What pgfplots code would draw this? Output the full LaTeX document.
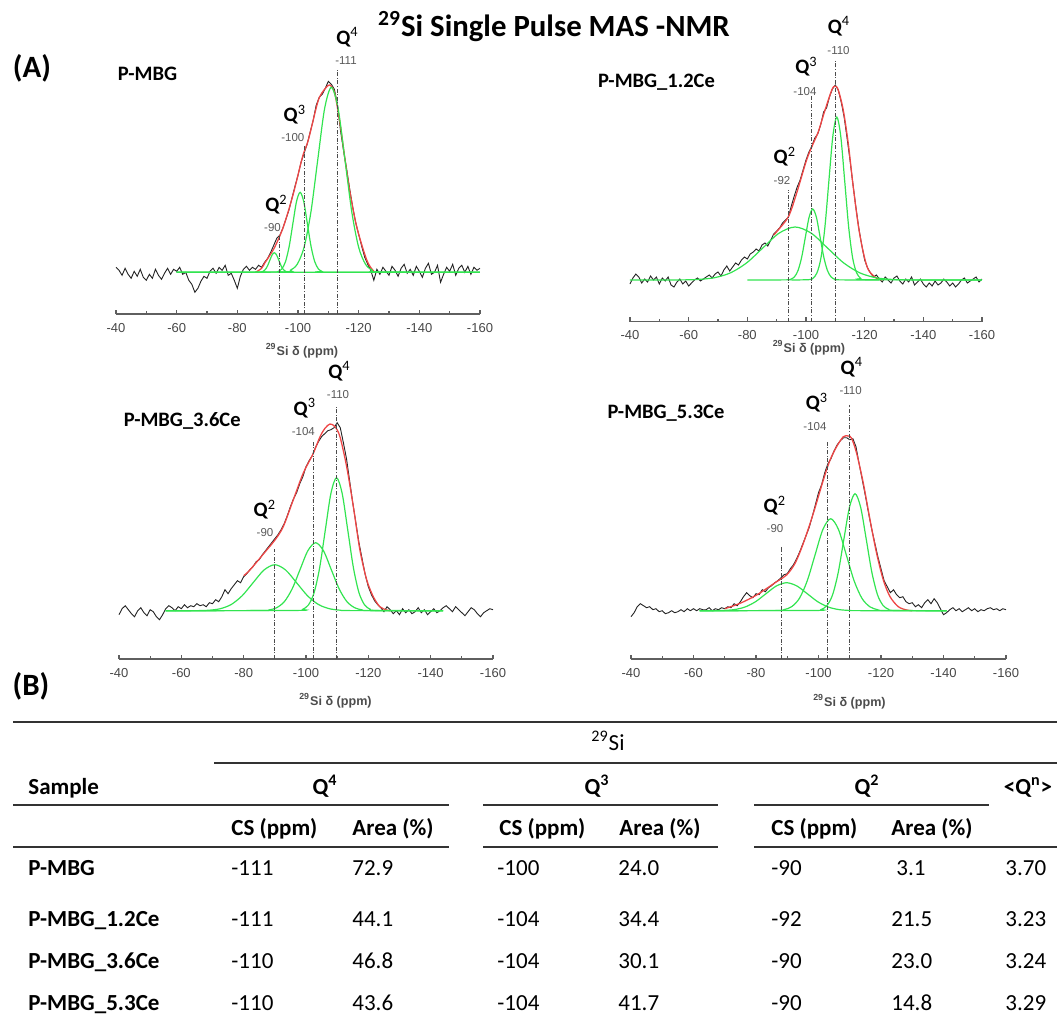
\documentclass[border=0pt]{standalone}
\usepackage{fontspec}
\setmainfont{Carlito}
\newfontfamily\arial{Liberation Sans}
\usepackage{pgfplots}
\pgfplotsset{compat=1.18}
\definecolor{fitgreen}{RGB}{50,228,80}
\definecolor{fitred}{RGB}{238,70,70}
\definecolor{spec}{RGB}{35,35,35}
\definecolor{axgray}{RGB}{95,95,95}
\newcommand{\fs}[1]{\fontsize{#1pt}{#1pt}\selectfont}
\pgfplotsset{
 nmr/.style={
  scale only axis, anchor=south west, clip=false, no markers,
  x dir=reverse, xmin=-160, xmax=-40, ymax=230,
  axis y line=none, axis x line*=bottom,
  x axis line style={-, draw=axgray, line width=0.75pt},
  xtick={-160,-140,-120,-100,-80,-60,-40},
  xticklabels={-160,-140,-120,-100,-80,-60,-40},
  minor xtick={-150,-130,-110,-90,-70,-50},
  tick align=inside, major tick length=2.2pt, minor tick length=1.5pt,
  tick style={draw=axgray, line width=0.6pt},
  xticklabel style={font=\arial\fs{6.5}, text=black!72, anchor=center, inner sep=0pt, yshift=-6.9pt},
 },
 spc/.style={draw=spec, line width=0.45pt},
 gfit/.style={draw=fitgreen, line width=0.6pt, smooth},
 rfit/.style={draw=fitred, line width=0.65pt, smooth},
 dl/.style={draw=black!70, line width=0.5pt, dash pattern=on 2pt off 0.8pt on 0.5pt off 0.8pt},
}
\begin{document}
\begin{tikzpicture}
\useasboundingbox (0,0) rectangle (528.5pt,-509pt);
% ---------------- Panel 1: P-MBG
\begin{axis}[nmr, at={(58pt,-157pt)}, width=182pt, height=135.85pt, ymin=-41.7]
\addplot[spc] coordinates {(-40,5)(-41,2)(-42,-3)(-43,4)(-44,-2)(-45,-6)(-46,1)(-47,-4)(-48,3)(-49,-5)(-50,-8)(-51,-2)(-52,-6)(-53,3)(-54,-3)(-55,-7)(-56,-1)(-57,4)(-58,-2)(-59,3)(-60,1)(-61,5)(-62,-2)(-63,0)(-64,-8)(-65,-12)(-66,-20)(-67,-16)(-68,-9)(-69,-4)(-70,-6)(-71,1)(-72,4)(-73,-1)(-74,5)(-75,2)(-76,7)(-77,-3)(-78,-1)(-79,-8)(-80,-16)(-81,-4)(-82,3)(-83,6)(-84,2)(-85,5)(-86,3)(-87,7)(-88,5)(-89,10)(-90,14)(-91,20)(-92,27)(-93,34)(-94,37)(-95,44)(-96,53)(-97,62)(-98,74)(-99,86)(-100,97)(-101,110)(-102,119)(-103,128)(-104,140)(-105,152)(-106,167)(-107,175)(-108,178)(-109,184)(-110,191)(-111,188)(-112,183)(-113,168)(-114,142)(-115,122)(-116,104)(-117,84)(-118,66)(-119,50)(-120,38)(-121,26)(-122,15)(-123,8)(-124,2)(-125,-8)(-126,3)(-127,-2)(-128,5)(-129,1)(-130,-3)(-131,6)(-132,2)(-133,-4)(-134,4)(-135,8)(-136,-1)(-137,3)(-138,-3)(-139,6)(-140,1)(-141,-5)(-142,4)(-143,9)(-144,-2)(-145,0)(-146,7)(-147,-10)(-148,-2)(-149,5)(-150,1)(-151,8)(-152,-3)(-153,4)(-154,7)(-155,0)(-156,6)(-157,-2)(-158,5)(-159,2)(-160,4)};
\addplot[rfit] coordinates {(-86,0)(-88,4)(-89.1,9.6)(-90.5,16)(-92.4,25.6)(-95.2,45.6)(-98.5,79)(-101.5,115.6)(-103.4,132.3)(-106.4,169)(-107.8,179)(-110,187)(-111,186)(-112.2,178)(-113.9,148)(-115.5,113)(-117.2,79)(-119.4,45)(-122.7,12)(-125,1)(-126,0)};
\addplot[gfit] coordinates {(-60,0)(-86.95,0.04)(-87.7,0.22)(-88.45,0.86)(-89.2,2.65)(-89.95,6.36)(-90.7,11.9)(-91.45,17.3)(-92.2,19.6)(-92.95,17.3)(-93.7,11.9)(-94.45,6.36)(-95.2,2.65)(-95.95,0.86)(-96.7,0.22)(-97.45,0.04)(-160,0)};
\addplot[gfit] coordinates {(-60,0)(-92.3,0.18)(-93.5,0.89)(-94.7,3.5)(-95.9,10.8)(-97.1,26.0)(-98.3,48.5)(-99.5,70.6)(-100.7,80)(-101.9,70.6)(-103.1,48.5)(-104.3,26.0)(-105.5,10.8)(-106.7,3.5)(-107.9,0.89)(-109.1,0.18)(-160,0)};
\addplot[gfit] coordinates {(-60,0)(-95.25,0.41)(-97.5,2.05)(-99.75,8.1)(-102,25.0)(-104.25,60.1)(-106.5,112.2)(-108.75,163.3)(-111,185)(-113.25,163.3)(-115.5,112.2)(-117.75,60.1)(-120,25.0)(-122.25,8.1)(-124.5,2.05)(-126.75,0.41)(-160,0)};
\addplot[dl] coordinates {(-93.8,-41.7)(-93.8,36)};
\addplot[dl] coordinates {(-102.1,-41.7)(-102.1,127)};
\addplot[dl] coordinates {(-112.9,-41.7)(-112.9,204)};
\end{axis}
% ---------------- Panel 2: P-MBG_1.2Ce
\begin{axis}[nmr, at={(315pt,-160.75pt)}, width=176pt, height=135.75pt, ymin=-41.5]
\addplot[spc] coordinates {(-40,-4)(-41,2)(-42,6)(-43,3)(-44,-3)(-45,1)(-46,-2)(-47,4)(-48,0)(-49,3)(-50,-4)(-51,2)(-52,-1)(-53,3)(-54,-5)(-55,-7)(-56,-2)(-57,1)(-58,-4)(-59,-1)(-60,-6)(-61,-3)(-62,0)(-63,2)(-64,-1)(-65,1)(-66,3)(-67,5)(-68,2)(-69,6)(-70,8)(-71,4)(-72,10)(-73,14)(-74,9)(-75,13)(-76,17)(-77,15)(-78,20)(-79,23)(-80,21)(-81,26)(-82,28)(-83,31)(-84,29)(-85,35)(-86,37)(-87,34)(-88,40)(-89,46)(-90,49)(-91,52)(-92,57)(-93,60)(-94,63)(-95,74)(-96,84)(-97,93)(-98,100)(-99,110)(-100,120)(-101,128)(-102,134)(-103,142)(-104,146)(-105,155)(-106,168)(-107,172)(-108,183)(-109,191)(-110,195)(-111,190)(-112,178)(-113,163)(-114,142)(-115,120)(-116,96)(-117,73)(-118,52)(-119,35)(-120,20)(-121,12)(-122,7)(-123,3)(-124,5)(-125,1)(-126,-2)(-127,3)(-128,0)(-129,-3)(-130,2)(-131,4)(-132,-1)(-133,-4)(-134,1)(-135,-2)(-136,3)(-137,-5)(-138,-2)(-139,1)(-140,-4)(-141,-7)(-142,-3)(-143,-6)(-144,-1)(-145,-5)(-146,-3)(-147,1)(-148,-2)(-149,-6)(-150,-3)(-151,-7)(-152,-4)(-153,0)(-154,2)(-155,-3)(-156,-1)(-157,1)(-158,3)(-159,-2)(-160,1)};
\addplot[rfit] coordinates {(-89,45)(-90,48.3)(-94,63.3)(-96.8,86.7)(-100.2,120)(-102.5,136.7)(-104.2,148.3)(-106.5,170)(-108.8,190)(-109.9,194)(-111,190)(-112.7,170)(-114.4,136.7)(-116.1,93.3)(-117.9,53.3)(-119.6,26.7)(-121.3,10)(-124.1,1.7)(-126,0)};
\addplot[gfit] coordinates {(-40,0)(-57.8,0.12)(-63.3,0.59)(-68.8,2.3)(-74.3,7.2)(-79.8,17.2)(-85.3,32.1)(-90.8,46.8)(-96.3,53)(-101.8,46.8)(-107.3,32.1)(-112.8,17.2)(-118.3,7.2)(-123.8,2.3)(-129.3,0.59)(-134.8,0.12)(-160,0)};
\addplot[gfit] coordinates {(-80,0)(-93.55,0.16)(-94.8,0.79)(-96.05,3.1)(-97.3,9.6)(-98.55,23.1)(-99.8,43.1)(-101.05,62.7)(-102.3,71)(-103.55,62.7)(-104.8,43.1)(-106.05,23.1)(-107.3,9.6)(-108.55,3.1)(-109.8,0.79)(-111.05,0.16)(-125,0)};
\addplot[gfit] coordinates {(-95,0)(-101.05,0.36)(-102.4,1.8)(-103.75,7.2)(-105.1,22.1)(-106.45,52.9)(-107.8,98.9)(-109.15,143.8)(-110.5,163)(-111.85,143.8)(-113.2,98.9)(-114.55,52.9)(-115.9,22.1)(-117.25,7.2)(-118.6,1.8)(-119.95,0.36)(-160,0)};
\addplot[dl] coordinates {(-94,-41.5)(-94,90)};
\addplot[dl] coordinates {(-102,-41.5)(-102,184)};
\addplot[dl] coordinates {(-110.2,-41.5)(-110.2,220)};
\end{axis}
% ---------------- Panel 3: P-MBG_3.6Ce
\begin{axis}[nmr, at={(59.5pt,-329.5pt)}, width=187pt, height=139.15pt, ymin=-48.3]
\addplot[spc] coordinates {(-40,-4)(-41,2)(-42,5)(-43,1)(-44,-3)(-45,-6)(-46,0)(-47,3)(-48,-2)(-49,-5)(-50,1)(-51,-1)(-52,-6)(-53,-9)(-54,-4)(-55,2)(-56,5)(-57,3)(-58,0)(-59,4)(-60,2)(-61,6)(-62,3)(-63,5)(-64,4)(-65,7)(-66,5)(-67,6)(-68,4)(-69,8)(-70,7)(-71,11)(-72,9)(-73,14)(-74,21)(-75,17)(-76,22)(-77,26)(-78,30)(-79,28)(-80,34)(-81,37)(-82,41)(-83,44)(-84,49)(-85,51)(-86,56)(-87,60)(-88,64)(-89,68)(-90,72)(-91,76)(-92,81)(-93,87)(-94,95)(-95,104)(-96,112)(-97,118)(-98,127)(-99,134)(-100,144)(-101,150)(-102,155)(-103,163)(-104,169)(-105,174)(-106,177)(-107,180)(-108,181)(-109,183)(-110,188)(-111,183)(-112,168)(-113,152)(-114,130)(-115,108)(-116,88)(-117,68)(-118,52)(-119,36)(-120,24)(-121,16)(-122,10)(-123,6)(-124,3)(-125,-1)(-126,4)(-127,1)(-128,-3)(-129,0)(-130,-4)(-131,2)(-132,-2)(-133,1)(-134,-3)(-135,-1)(-136,3)(-137,-2)(-138,1)(-139,-4)(-140,-1)(-141,2)(-142,-2)(-143,0)(-144,3)(-145,5)(-146,2)(-147,-1)(-148,4)(-149,1)(-150,-2)(-151,-5)(-152,-1)(-153,3)(-154,1)(-155,-3)(-156,-6)(-157,-2)(-158,0)(-159,2)(-160,1)};
\addplot[rfit] coordinates {(-80,35)(-82,40.7)(-87.4,60.7)(-90.05,70.7)(-92.7,84)(-95.9,110.7)(-99.1,137.4)(-102.35,157.4)(-104.5,174)(-106.1,182.4)(-107.7,186.7)(-109.3,184)(-110.9,174)(-113.05,144)(-115.2,104)(-117.3,60.7)(-119.5,30.7)(-121.6,14)(-123.7,4)(-125.9,0.7)(-127,0)};
\addplot[gfit] coordinates {(-55,0)(-65.5,0.10)(-69,0.51)(-72.5,2.0)(-76,6.2)(-79.5,14.9)(-83,27.9)(-86.5,40.6)(-90,46)(-93.5,40.6)(-97,27.9)(-100.5,14.9)(-104,6.2)(-107.5,2.0)(-111,0.51)(-114.5,0.10)(-144,0)};
\addplot[gfit] coordinates {(-55,0)(-85.6,0.15)(-88.1,0.75)(-90.6,3.0)(-93.1,9.2)(-95.6,22.1)(-98.1,41.2)(-100.6,60.0)(-103.1,68)(-105.6,60.0)(-108.1,41.2)(-110.6,22.1)(-113.1,9.2)(-115.6,3.0)(-118.1,0.75)(-120.6,0.15)(-144,0)};
\addplot[gfit] coordinates {(-55,0)(-97.2,0.29)(-99.0,1.48)(-100.8,5.8)(-102.6,18.0)(-104.4,43.2)(-106.2,80.7)(-108.0,117.4)(-109.8,133)(-111.6,117.4)(-113.4,80.7)(-115.2,43.2)(-117.0,18.0)(-118.8,5.8)(-120.6,1.48)(-122.4,0.29)(-144,0)};
\addplot[dl] coordinates {(-90,-48.3)(-90,62)};
\addplot[dl] coordinates {(-102.5,-48.3)(-102.5,169)};
\addplot[dl] coordinates {(-109.8,-48.3)(-109.8,204)};
\end{axis}
% ---------------- Panel 4: P-MBG_5.3Ce
\begin{axis}[nmr, at={(315.5pt,-329.5pt)}, width=187.5pt, height=139.15pt, ymin=-48.3]
\addplot[spc] coordinates {(-40,-6)(-41,-2)(-42,4)(-43,7)(-44,5)(-45,3)(-46,4)(-47,1)(-48,2)(-49,-1)(-50,0)(-51,-3)(-52,-2)(-53,0)(-54,-2)(-55,-1)(-56,1)(-57,-1)(-58,2)(-59,0)(-60,2)(-61,0)(-62,2)(-63,1)(-64,1)(-65,3)(-66,0)(-67,2)(-68,1)(-69,3)(-70,2)(-71,4)(-72,3)(-73,7)(-74,5)(-75,9)(-76,14)(-77,18)(-78,15)(-79,13)(-80,17)(-81,16)(-82,21)(-83,19)(-84,23)(-85,25)(-86,28)(-87,30)(-88,33)(-89,36)(-90,37)(-91,42)(-92,46)(-93,52)(-94,59)(-95,67)(-96,75)(-97,83)(-98,94)(-99,106)(-100,118)(-101,126)(-102,138)(-103,147)(-104,152)(-105,160)(-106,166)(-107,170)(-108,173)(-109,173)(-110,171)(-111,172)(-112,164)(-113,147)(-114,131)(-115,115)(-116,98)(-117,82)(-118,68)(-119,54)(-120,42)(-121,30)(-122,24)(-123,18)(-124,21)(-125,16)(-126,13)(-127,14)(-128,9)(-129,7)(-130,8)(-131,4)(-132,6)(-133,3)(-134,8)(-135,11)(-136,7)(-137,12)(-138,8)(-139,2)(-140,-4)(-141,-2)(-142,1)(-143,3)(-144,0)(-145,2)(-146,-1)(-147,1)(-148,3)(-149,0)(-150,2)(-151,-1)(-152,1)(-153,0)(-154,2)(-155,3)(-156,1)(-157,2)(-158,0)(-159,2)(-160,1)};
\addplot[rfit] coordinates {(-70,2)(-74.9,7.4)(-80.2,15.7)(-86.6,29)(-89.8,35.7)(-92.5,47.4)(-95.15,67.4)(-98.35,97.4)(-101.55,130.7)(-103.7,150.7)(-105.8,164)(-107.95,174)(-109.55,174.7)(-110.6,172.4)(-112.2,157.4)(-114.35,127.4)(-116.5,90.7)(-118.6,57.4)(-120.75,30.7)(-122.9,14)(-125.55,4)(-128.2,0.7)(-130,0)};
\addplot[gfit] coordinates {(-62,0)(-66.7,0.06)(-70.0,0.31)(-73.3,1.23)(-76.6,3.8)(-79.9,9.1)(-83.2,17.0)(-86.5,24.7)(-89.8,28)(-93.1,24.7)(-96.4,17.0)(-99.7,9.1)(-103.0,3.8)(-106.3,1.23)(-109.6,0.31)(-112.9,0.06)(-141,0)};
\addplot[gfit] coordinates {(-62,0)(-86.4,0.20)(-88.9,1.02)(-91.4,4.0)(-93.9,12.4)(-96.4,29.9)(-98.9,55.8)(-101.4,81.2)(-103.9,92)(-106.4,81.2)(-108.9,55.8)(-111.4,29.9)(-113.9,12.4)(-116.4,4.0)(-118.9,1.02)(-121.4,0.20)(-141,0)};
\addplot[gfit] coordinates {(-62,0)(-99.1,0.26)(-100.9,1.30)(-102.7,5.1)(-104.5,15.8)(-106.3,38.0)(-108.1,71.0)(-109.9,103.3)(-111.7,117)(-113.5,103.3)(-115.3,71.0)(-117.1,38.0)(-118.9,15.8)(-120.7,5.1)(-122.5,1.30)(-124.3,0.26)(-141,0)};
\addplot[dl] coordinates {(-88.2,-48.3)(-88.2,64)};
\addplot[dl] coordinates {(-102.8,-48.3)(-102.8,169)};
\addplot[dl] coordinates {(-109.8,-48.3)(-109.8,206)};
\end{axis}
% ---------------- texts and table (pixel units)
\begin{scope}[x=0.5pt,y=-0.5pt]
\tikzset{
 qlab/.style={anchor=base west, inner sep=0pt, font=\bfseries\fs{10.25}},
 qnum/.style={anchor=base, inner sep=0pt, font=\arial\fs{5.75}, text=black!65},
 pname/.style={anchor=base west, inner sep=0pt, font=\bfseries\fs{10.25}},
 alab/.style={anchor=base, inner sep=0pt, font=\arial\bfseries\fs{6.3}, text=black!70},
 tb/.style={anchor=base west, inner sep=0pt, font=\fs{11.5}},
 tbb/.style={anchor=base west, inner sep=0pt, font=\bfseries\fs{11.5}},
 tbc/.style={anchor=base, inner sep=0pt, font=\bfseries\fs{11.5}},
 rl/.style={draw=black!80, line width=1pt},
}
% title and panel letters
\node[anchor=base, inner sep=0pt, font=\bfseries\fs{15.4}] at (554,36) {\textsuperscript{29}Si Single Pulse MAS -NMR};
\node[anchor=base, inner sep=0pt, font=\bfseries\fs{15.5}] at (32,77) {(A)};
\node[anchor=base, inner sep=0pt, font=\bfseries\fs{15.5}] at (31,695) {(B)};
% panel 1
\node[pname] at (117.6,80.5) {P-MBG};
\node[qlab] at (336,44) {Q\textsuperscript{\mdseries 4}};
\node[qnum] at (346,64) {-111};
\node[qlab] at (283.3,121.5) {Q\textsuperscript{\mdseries 3}};
\node[qnum] at (292.8,141.7) {-100};
\node[qlab] at (265,211.5) {Q\textsuperscript{\mdseries 2}};
\node[qnum] at (272.5,231.7) {-90};
\node[alab] at (302,355) {\textsuperscript{29}Si δ (ppm)};
% panel 2
\node[pname] at (597.6,87) {P-MBG\_1.2Ce};
\node[qlab] at (827.5,33.2) {Q\textsuperscript{\mdseries 4}};
\node[qnum] at (838.5,54) {-110};
\node[qlab] at (795,73.5) {Q\textsuperscript{\mdseries 3}};
\node[qnum] at (805,95) {-104};
\node[qlab] at (773.3,163.3) {Q\textsuperscript{\mdseries 2}};
\node[qnum] at (782,184) {-92};
\node[alab] at (809,352) {\textsuperscript{29}Si δ (ppm)};
% panel 3
\node[pname] at (123.4,426) {P-MBG\_3.6Ce};
\node[qlab] at (328,378) {Q\textsuperscript{\mdseries 4}};
\node[qnum] at (338,398.5) {-110};
\node[qlab] at (293.3,415) {Q\textsuperscript{\mdseries 3}};
\node[qnum] at (303.3,435) {-104};
\node[qlab] at (253.3,516.7) {Q\textsuperscript{\mdseries 2}};
\node[qnum] at (265,536) {-90};
\node[alab] at (335.5,705) {\textsuperscript{29}Si δ (ppm)};
% panel 4
\node[pname] at (607.1,418) {P-MBG\_5.3Ce};
\node[qlab] at (840.3,374.2) {Q\textsuperscript{\mdseries 4}};
\node[qnum] at (850.6,394.5) {-110};
\node[qlab] at (805.5,409.7) {Q\textsuperscript{\mdseries 3}};
\node[qnum] at (815,430.7) {-104};
\node[qlab] at (763.3,512.7) {Q\textsuperscript{\mdseries 2}};
\node[qnum] at (775,532.7) {-90};
\node[alab] at (849.5,706) {\textsuperscript{29}Si δ (ppm)};
% table rules
\draw[rl] (13,722) -- (1057,722);
\draw[rl] (214,763) -- (1057,763);
\draw[rl] (13,805) -- (449,805);
\draw[rl] (483,805) -- (718,805);
\draw[rl] (754,805) -- (989,805);
\draw[rl] (13,847) -- (449,847);
\draw[rl] (483,847) -- (718,847);
\draw[rl] (754,847) -- (1057,847);
% table header
\node[anchor=base, inner sep=0pt, font=\fs{11.5}] at (608,750.4) {\textsuperscript{29}Si};
\node[tbb] at (28,794.4) {Sample};
\node[tbc] at (325,794.4) {Q\textsuperscript{4}};
\node[tbc] at (597,794.4) {Q\textsuperscript{3}};
\node[tbc] at (867,794.4) {Q\textsuperscript{2}};
\node[tbc] at (1028,794.4) {<Q\textsuperscript{n}>};
\node[tbb] at (231,835.4) {CS (ppm)};
\node[tbb] at (352,835.4) {Area (\%)};
\node[tbb] at (499,835.4) {CS (ppm)};
\node[tbb] at (619,835.4) {Area (\%)};
\node[tbb] at (771,835.4) {CS (ppm)};
\node[tbb] at (891,835.4) {Area (\%)};
% table rows
\node[tbb] at (28,875.4) {P-MBG};
\node[tb] at (231,875.4) {-111};
\node[tb] at (352,875.4) {72.9};
\node[tb] at (497,875.4) {-100};
\node[tb] at (618,875.4) {24.0};
\node[tb] at (771,875.4) {-90};
\node[tb] at (896,875.4) {3.1};
\node[tb] at (1005,875.4) {3.70};
\node[tbb] at (28,926.4) {P-MBG\_1.2Ce};
\node[tb] at (231,926.4) {-111};
\node[tb] at (352,926.4) {44.1};
\node[tb] at (497,926.4) {-104};
\node[tb] at (618,926.4) {34.4};
\node[tb] at (771,926.4) {-92};
\node[tb] at (891,926.4) {21.5};
\node[tb] at (1005,926.4) {3.23};
\node[tbb] at (28,968.4) {P-MBG\_3.6Ce};
\node[tb] at (231,968.4) {-110};
\node[tb] at (352,968.4) {46.8};
\node[tb] at (497,968.4) {-104};
\node[tb] at (618,968.4) {30.1};
\node[tb] at (771,968.4) {-90};
\node[tb] at (891,968.4) {23.0};
\node[tb] at (1005,968.4) {3.24};
\node[tbb] at (28,1010.4) {P-MBG\_5.3Ce};
\node[tb] at (231,1010.4) {-110};
\node[tb] at (352,1010.4) {43.6};
\node[tb] at (497,1010.4) {-104};
\node[tb] at (618,1010.4) {41.7};
\node[tb] at (771,1010.4) {-90};
\node[tb] at (891,1010.4) {14.8};
\node[tb] at (1005,1010.4) {3.29};
\end{scope}
\end{tikzpicture}
\end{document}
